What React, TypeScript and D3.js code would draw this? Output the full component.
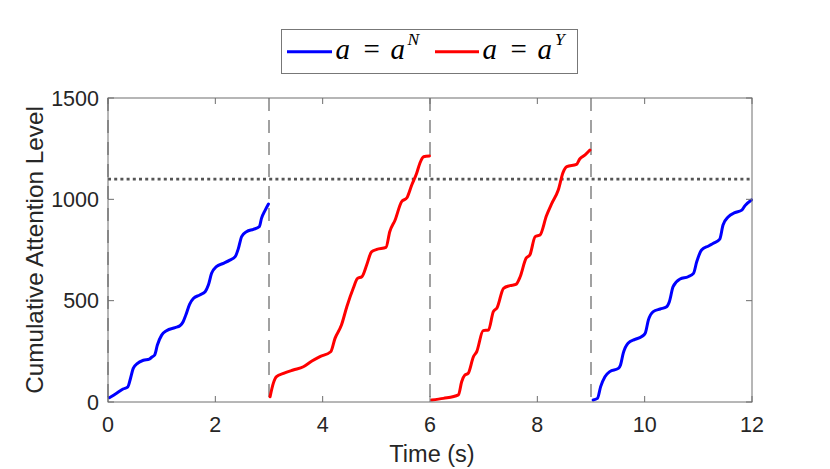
import React from "react";
import * as d3 from "d3";

// ---- Data (time in s, cumulative attention level) ----
const blueSeg1: [number, number][] = [
  [0.025, 21], [0.16, 43], [0.28, 64], [0.37, 75], [0.42, 117], [0.47, 166], [0.55, 191],
  [0.66, 206], [0.77, 212], [0.82, 222], [0.87, 232], [0.92, 281], [1.0, 330], [1.09, 352],
  [1.25, 367], [1.34, 376], [1.4, 396], [1.45, 429], [1.52, 482], [1.59, 511], [1.71, 528],
  [1.81, 544], [1.87, 577], [1.93, 635], [2.02, 668], [2.15, 684], [2.27, 700], [2.37, 717],
  [2.43, 758], [2.49, 816], [2.58, 840], [2.71, 852], [2.82, 865], [2.86, 906], [2.93, 947],
  [2.99, 977],
];
const redSeg1: [number, number][] = [
  [3.02, 26], [3.08, 92], [3.14, 125], [3.27, 141], [3.45, 158], [3.64, 174], [3.8, 202],
  [3.95, 224], [4.15, 248], [4.23, 314], [4.35, 380], [4.45, 470], [4.57, 561], [4.65, 610],
  [4.73, 618], [4.82, 676], [4.91, 741], [5.01, 753], [5.18, 763], [5.25, 840], [5.35, 898],
  [5.47, 988], [5.57, 1008], [5.66, 1071], [5.75, 1128], [5.81, 1177], [5.88, 1210], [5.99, 1214],
];
const redSeg2: [number, number][] = [
  [6.03, 10], [6.25, 18], [6.53, 35], [6.59, 100], [6.65, 133], [6.71, 141], [6.81, 224],
  [6.87, 248], [6.99, 352], [7.09, 355], [7.18, 446], [7.25, 465], [7.37, 561], [7.49, 574],
  [7.6, 580], [7.68, 618], [7.79, 709], [7.86, 725], [7.96, 816], [8.05, 824], [8.17, 919],
  [8.27, 980], [8.39, 1046], [8.48, 1133], [8.55, 1161], [8.73, 1172], [8.79, 1199],
  [8.89, 1219], [8.98, 1243],
];
const blueSeg2: [number, number][] = [
  [9.04, 10], [9.12, 18], [9.18, 76], [9.26, 125], [9.35, 150], [9.51, 166], [9.55, 183],
  [9.6, 240], [9.69, 290], [9.82, 309], [9.94, 322], [10.01, 339], [10.07, 405], [10.16, 446],
  [10.29, 459], [10.41, 470], [10.46, 495], [10.53, 569], [10.66, 607], [10.81, 618],
  [10.91, 635], [10.97, 692], [11.06, 750], [11.19, 770], [11.28, 783], [11.4, 804],
  [11.46, 873], [11.56, 914], [11.68, 934], [11.81, 947], [11.87, 969], [11.99, 997],
];
const segments = [
  { pts: blueSeg1, color: "#0000ff" },
  { pts: redSeg1, color: "#ff0000" },
  { pts: redSeg2, color: "#ff0000" },
  { pts: blueSeg2, color: "#0000ff" },
];
const switchTimes = [0, 3, 6, 9];
const threshold = 1100;
const xTicks = [0, 2, 4, 6, 8, 10, 12];
const yTicks = [0, 500, 1000, 1500];
const xLabel = "Time (s)";
const yLabel = "Cumulative Attention Level";

const W = 830, H = 469;
const left = 108, right = 752, top = 98, bottom = 402;

export default function App() {
  const x = d3.scaleLinear().domain([0, 12]).range([left, right]);
  const y = d3.scaleLinear().domain([0, 1500]).range([bottom, top]);
  const line = d3.line<[number, number]>().x(d => x(d[0])).y(d => y(d[1])).curve(d3.curveMonotoneX);
  const axisColor = "#262626";
  const boxColor = "#6e6e6e";
  const tick = 6;
  const font = "'Liberation Sans', Arial, Helvetica, sans-serif";
  const mathFont = "'Liberation Serif', 'DejaVu Serif', serif";

  return (
    <div style={{ position: "absolute", left: 0, top: 0 }}>
      <svg width={W} height={H} viewBox={`0 0 ${W} ${H}`} style={{ display: "block", background: "#fff" }}>
        <rect x={0} y={0} width={W} height={H} fill="#fff" />
        <rect x={left} y={top} width={right - left} height={bottom - top} fill="#fff" />

        {/* switch lines */}
        {switchTimes.map(t => (
          <line key={`s${t}`} x1={x(t)} x2={x(t)} y1={top} y2={bottom}
            stroke="#8a8a8a" strokeWidth={1.6} strokeDasharray="13,9" />
        ))}
        {/* threshold */}
        <line x1={left} x2={right} y1={y(threshold)} y2={y(threshold)}
          stroke="#555" strokeWidth={2.8} strokeDasharray="3,3.2" />

        {/* data */}
        {segments.map((s, i) => (
          <path key={i} d={line(s.pts) || ""} fill="none" stroke={s.color}
            strokeWidth={3} strokeLinejoin="round" strokeLinecap="round" />
        ))}

        {/* box */}
        <rect x={left} y={top} width={right - left} height={bottom - top} fill="none"
          stroke={boxColor} strokeWidth={1} />
        {xTicks.map(t => (
          <g key={`xt${t}`}>
            <line x1={x(t)} x2={x(t)} y1={bottom} y2={bottom - tick} stroke={boxColor} />
            <line x1={x(t)} x2={x(t)} y1={top} y2={top + tick} stroke={boxColor} />
            <text x={x(t)} y={431.5} textAnchor="middle" fontFamily={font} fontSize={21.5} fill={axisColor}>{t}</text>
          </g>
        ))}
        {yTicks.map(v => (
          <g key={`yt${v}`}>
            <line x1={left} x2={left + tick} y1={y(v)} y2={y(v)} stroke={boxColor} />
            <line x1={right} x2={right - tick} y1={y(v)} y2={y(v)} stroke={boxColor} />
            <text x={99} y={y(v) + 7.7} textAnchor="end" fontFamily={font} fontSize={21.5} fill={axisColor}>{v}</text>
          </g>
        ))}

        {/* axis labels */}
        <text x={(left + right) / 2 + 2} y={461.5} textAnchor="middle" fontFamily={font} fontSize={23.5} fill={axisColor}>{xLabel}</text>
        <text transform={`translate(42.5,${(top + bottom) / 2}) rotate(-90)`} textAnchor="middle"
          fontFamily={font} fontSize={24.3} fill={axisColor}>{yLabel}</text>

        {/* legend */}
        <rect x={281.5} y={29.5} width={296} height={44} fill="#fff" stroke="#777" strokeWidth={1} />
        <line x1={287} x2={332} y1={51.7} y2={51.7} stroke="#0000ff" strokeWidth={3} />
        <g fontFamily={mathFont} fill="#000">
          <text x={335.5} y={58.7} fontSize={29} fontStyle="italic">a</text>
          <text x={363.5} y={58.7} fontSize={29}>=</text>
          <text x={390.5} y={58.7} fontSize={29} fontStyle="italic">a</text>
          <text x={407.5} y={44.8} fontSize={17.5} fontStyle="italic">N</text>
        </g>
        <line x1={435} x2={479} y1={51.7} y2={51.7} stroke="#ff0000" strokeWidth={3} />
        <g fontFamily={mathFont} fill="#000">
          <text x={482.5} y={58.7} fontSize={29} fontStyle="italic">a</text>
          <text x={510.5} y={58.7} fontSize={29}>=</text>
          <text x={537.5} y={58.7} fontSize={29} fontStyle="italic">a</text>
          <text x={555} y={44.8} fontSize={17.5} fontStyle="italic">Y</text>
        </g>
      </svg>
    </div>
  );
}
